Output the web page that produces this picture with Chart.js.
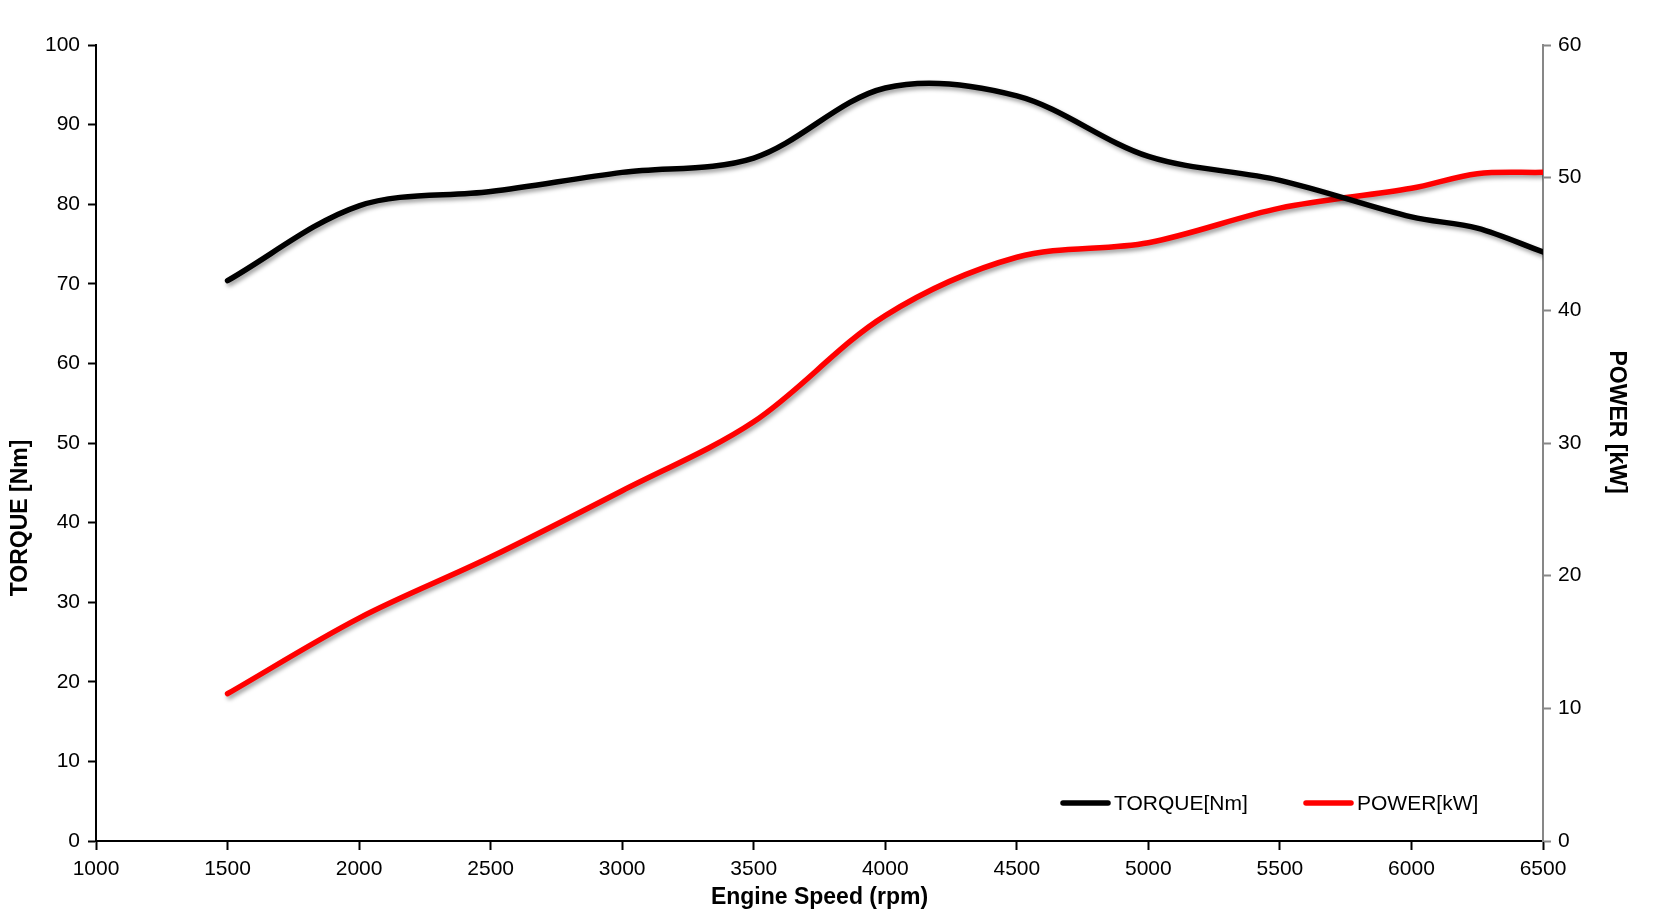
<!DOCTYPE html>
<html>
<head>
<meta charset="utf-8">
<script src="https://cdn.jsdelivr.net/npm/chart.js@4.4.1/dist/chart.umd.min.js"></script>
<style>
  html, body { margin: 0; padding: 0; background: #fff; }
  #wrap { width: 1653px; height: 924px; position: relative; }
</style>
</head>
<body>
<div id="wrap"><canvas id="myChart"></canvas></div>
<script>
// engine speed in rpm
const rpm = [1500, 2000, 2500, 3000, 3500, 4000, 4500, 5000, 5500, 6000, 6250, 6500];
// torque [Nm], left axis
const torque = [70.4, 79.8, 81.6, 84.0, 85.8, 94.6, 93.6, 86.0, 83.0, 78.4, 77.0, 74.0];
// power [kW], right axis
const power = [11.1, 16.8, 21.4, 26.4, 31.6, 39.6, 44.0, 45.1, 47.7, 49.2, 50.3, 50.4];

const seriesNames = ['TORQUE[Nm]', 'POWER[kW]'];
const xTitle = 'Engine Speed (rpm)';
const yLeftTitle = 'TORQUE [Nm]';
const yRightTitle = 'POWER [kW]';

const FONT = '"Liberation Sans", Arial, sans-serif';

function toPoints(ys) {
    return rpm.map((r, i) => ({ x: r, y: ys[i] }));
}

// soft grey shadow under the curves, like the office chart
const shadowPlugin = {
    id: 'lineShadow',
    beforeDatasetDraw(chart) {
        const ctx = chart.ctx;
        ctx.save();
        ctx.shadowColor = 'rgba(0,0,0,0.38)';
        ctx.shadowBlur = 4;
        ctx.shadowOffsetX = 2;
        ctx.shadowOffsetY = 3;
    },
    afterDatasetDraw(chart) {
        chart.ctx.restore();
    }
};

// axis titles and the legend inside the plot
const labelsPlugin = {
    id: 'labels',
    afterDraw(chart) {
        const ctx = chart.ctx;
        const area = chart.chartArea;
        ctx.save();
        ctx.fillStyle = '#000';
        ctx.font = 'bold 23px ' + FONT;
        ctx.textAlign = 'center';
        ctx.textBaseline = 'middle';
        ctx.fillText(xTitle, (area.left + area.right) / 2, 898);

        ctx.save();
        ctx.translate(21, 518);
        ctx.rotate(-Math.PI / 2);
        ctx.fillText(yLeftTitle, 0, 0);
        ctx.restore();

        ctx.save();
        ctx.translate(1616, 422);
        ctx.rotate(Math.PI / 2);
        ctx.fillText(yRightTitle, 0, 0);
        ctx.restore();

        // legend
        const starts = [1063, 1306];
        const ly = 803;
        ctx.font = '21px ' + FONT;
        ctx.textAlign = 'left';
        chart.data.datasets.forEach((ds, i) => {
            const x0 = starts[i];
            ctx.beginPath();
            ctx.strokeStyle = ds.borderColor;
            ctx.lineWidth = 5.5;
            ctx.lineCap = 'round';
            ctx.moveTo(x0, ly);
            ctx.lineTo(x0 + 45, ly);
            ctx.stroke();
            ctx.fillStyle = '#000';
            ctx.fillText(ds.label, x0 + 51, ly + 1);
        });
        ctx.restore();
    }
};

const data = {
    datasets: [{
        label: seriesNames[0],
        data: toPoints(torque),
        yAxisID: 'y',
        borderColor: '#000000',
        borderWidth: 5.5,
        borderCapStyle: 'round',
        pointRadius: 0,
        fill: false,
        tension: 0.33
    },
    {
        label: seriesNames[1],
        data: toPoints(power),
        yAxisID: 'y1',
        borderColor: '#ff0000',
        borderWidth: 5.5,
        borderCapStyle: 'round',
        pointRadius: 0,
        fill: false,
        tension: 0.33
    }]
};

const config = {
    type: 'line',
    data,
    options: {
        responsive: true,
        maintainAspectRatio: false,
        animation: false,
        layout: { padding: { top: 45, left: 0, right: 0, bottom: 0 } },
        plugins: {
            legend: { display: false },
            tooltip: { enabled: false }
        },
        scales: {
            x: {
                type: 'linear',
                min: 1000,
                max: 6500,
                afterFit: (scale) => { scale.height = 83; },
                border: { color: '#000', width: 2 },
                grid: { drawOnChartArea: false, tickLength: 9, tickColor: '#000', tickWidth: 2 },
                ticks: {
                    stepSize: 500,
                    color: '#000',
                    padding: 7,
                    maxRotation: 0,
                    font: { family: FONT, size: 21 },
                    callback: (v) => String(v)
                }
            },
            y: {
                position: 'left',
                min: 0,
                max: 100,
                afterFit: (scale) => { scale.width = 96; },
                border: { color: '#000', width: 2 },
                grid: { drawOnChartArea: false, tickLength: 8, tickColor: '#000', tickWidth: 2 },
                ticks: {
                    stepSize: 10,
                    color: '#000',
                    padding: 8,
                    font: { family: FONT, size: 21 }
                }
            },
            y1: {
                position: 'right',
                min: 0,
                max: 60,
                afterFit: (scale) => { scale.width = 110; },
                border: { color: '#878787', width: 2 },
                grid: { drawOnChartArea: false, tickLength: 8, tickColor: '#878787', tickWidth: 2 },
                ticks: {
                    stepSize: 10,
                    color: '#000',
                    padding: 7,
                    font: { family: FONT, size: 21 }
                }
            }
        }
    },
    plugins: [shadowPlugin, labelsPlugin]
};

new Chart(document.getElementById('myChart'), config);
</script>
</body>
</html>
